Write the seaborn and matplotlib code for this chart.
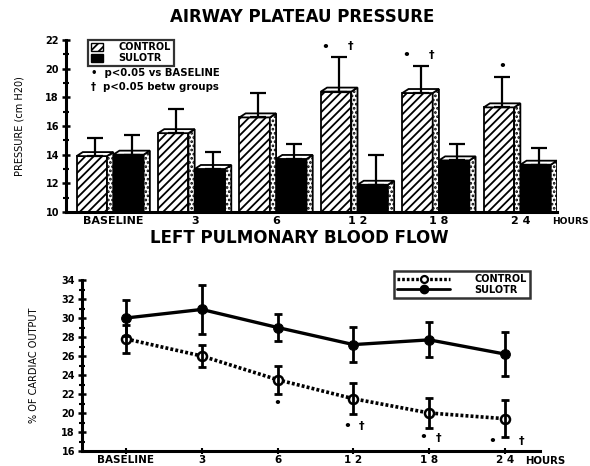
import numpy as np
import pandas as pd
import matplotlib
matplotlib.use("Agg")
import matplotlib.pyplot as plt
import seaborn as sns
from matplotlib.patches import Patch, Polygon
from matplotlib.lines import Line2D
from matplotlib.ticker import MultipleLocator

# ---------------- data ----------------
categories = ["BASELINE", "3", "6", "1 2", "1 8", "2 4"]
groups = ["CONTROL", "SULOTR"]

pressure_control = [13.9, 15.5, 16.6, 18.4, 18.3, 17.3]
pressure_control_err = [1.25, 1.7, 1.7, 2.4, 1.9, 2.15]
pressure_sulotr = [14.0, 13.0, 13.7, 11.9, 13.6, 13.3]
pressure_sulotr_err = [1.4, 1.2, 1.05, 2.1, 1.15, 1.2]
pressure_sig_baseline = [0, 0, 0, 1, 1, 1]
pressure_sig_between = [0, 0, 0, 1, 1, 0]
pressure_ticks = [10, 12, 14, 16, 18, 20, 22]

flow_control = [27.8, 26.0, 23.5, 21.5, 20.0, 19.4]
flow_control_err = [1.5, 1.15, 1.45, 1.65, 1.55, 1.95]
flow_sulotr = [30.0, 30.9, 29.0, 27.2, 27.7, 26.2]
flow_sulotr_err = [1.9, 2.6, 1.4, 1.85, 1.85, 2.3]
flow_sig_baseline = [0, 0, 1, 1, 1, 1]
flow_sig_between = [0, 0, 0, 1, 1, 1]
flow_ticks = [16, 18, 20, 22, 24, 26, 28, 30, 32, 34]

title_top = "AIRWAY PLATEAU PRESSURE"
title_bottom = "LEFT PULMONARY BLOOD FLOW"
ylabel_top = "PRESSURE (cm H20)"
ylabel_bottom = "% OF CARDIAC OUTPUT"
sig_base_text = "•  p<0.05 vs BASELINE"
sig_between_text = "†  p<0.05 betw groups"

# annotation offsets in pixels (style only)
flow_dot_offsets = [(0, -10), (0, -10), (0, -10), (-6, -12), (-6, -10), (-13, -4)]
flow_dag_offsets = [(0, -10), (0, -10), (0, -10), (8, -12), (9, -10), (16, -4)]

# ---------------- style ----------------
sns.set_theme(style="ticks")
plt.rcParams["font.family"] = ["DejaVu Sans"]
plt.rcParams["hatch.linewidth"] = 1.3
plt.rcParams["axes.linewidth"] = 2.2
for key in ["text.color", "axes.labelcolor", "xtick.color", "ytick.color", "axes.edgecolor"]:
    plt.rcParams[key] = "black"

fig = plt.figure(figsize=(5.9, 4.66), dpi=100)
ax1 = fig.add_axes([66 / 590, 1 - 212 / 466, 491 / 590, 172 / 466])
ax2 = fig.add_axes([82 / 590, 1 - 451 / 466, 458 / 590, 171 / 466])

# ---------------- top: bar chart ----------------
df_p = pd.DataFrame({
    "time": categories * 2,
    "group": [groups[0]] * len(categories) + [groups[1]] * len(categories),
    "value": pressure_control + pressure_sulotr,
})
sns.barplot(data=df_p, x="time", y="value", hue="group", order=categories,
            hue_order=groups, palette={"CONTROL": "white", "SULOTR": "black"},
            edgecolor="black", linewidth=1.3, width=0.9, gap=0,
            errorbar=None, legend=False, ax=ax1)

ax1.set_ylim(pressure_ticks[0], pressure_ticks[-1])
ax1.set_xlim(-0.58, 5.45)
bars = sorted([p for p in ax1.patches], key=lambda p: p.get_x())
vals_i, errs_i, centers, is_ctrl = [], [], [], []
for i in range(len(categories)):
    vals_i += [pressure_control[i], pressure_sulotr[i]]
    errs_i += [pressure_control_err[i], pressure_sulotr_err[i]]
    is_ctrl += [True, False]
dy = 0.28
for k, p in enumerate(bars):
    x0, w, top = p.get_x(), p.get_width(), p.get_height()
    bot = p.get_y()
    depth = w * 0.17
    fw = w - depth
    p.set_width(fw)
    if is_ctrl[k]:
        p.set_hatch("////")
    p.set_zorder(2)
    xf = x0 + fw
    side = Polygon([(xf, bot), (x0 + w, bot), (x0 + w, top + dy), (xf, top)],
                   closed=True, facecolor="white", edgecolor="black",
                   hatch="....", linewidth=1.3, zorder=2)
    ax1.add_patch(side)
    topf = Polygon([(x0, top), (xf, top), (x0 + w, top + dy), (x0 + depth, top + dy)],
                   closed=True, facecolor="white", edgecolor="black",
                   linewidth=1.3, zorder=2)
    ax1.add_patch(topf)
    centers.append(x0 + w / 2)

centers = np.array(centers)
vals_i = np.array(vals_i)
errs_i = np.array(errs_i)
ax1.errorbar(centers, vals_i, yerr=[np.zeros_like(errs_i), errs_i], fmt="none",
             ecolor="black", elinewidth=1.6, capsize=6, capthick=1.6, zorder=5)

ctrl_centers = centers[0::2]
for i in range(len(categories)):
    ytop = pressure_control[i] + pressure_control_err[i]
    both = pressure_sig_baseline[i] and pressure_sig_between[i]
    if pressure_sig_baseline[i]:
        ax1.annotate("•", xy=(ctrl_centers[i], ytop), xytext=(-14 if both else 0, 10),
                     textcoords="offset pixels", ha="center", va="center",
                     fontsize=9, fontweight="bold")
    if pressure_sig_between[i]:
        ax1.annotate("†", xy=(ctrl_centers[i], ytop), xytext=(11, 11),
                     textcoords="offset pixels", ha="center", va="center",
                     fontsize=8, fontweight="bold")

ax1.set_yticks(pressure_ticks)
ax1.yaxis.set_minor_locator(MultipleLocator(1))
ax1.tick_params(axis="y", which="major", direction="inout", length=6, width=1.8,
                labelsize=7, pad=2)
ax1.tick_params(axis="y", which="minor", direction="inout", length=4, width=1.5)
ax1.tick_params(axis="x", length=0, labelsize=8, pad=3)
for lab in ax1.get_xticklabels() + ax1.get_yticklabels():
    lab.set_fontweight("bold")
ax1.set_xlabel("")
ax1.set_ylabel(ylabel_top, fontsize=7, labelpad=15)
sns.despine(ax=ax1)
ax1.annotate("HOURS", xy=(1, 0), xycoords="axes fraction", xytext=(-5, -5),
             textcoords="offset pixels", ha="left", va="top",
             fontsize=6.6, fontweight="bold")

leg1 = ax1.legend(handles=[Patch(facecolor="white", edgecolor="black", hatch="////"),
                           Patch(facecolor="black", edgecolor="black")],
                  labels=groups, loc="upper left", bbox_to_anchor=(0.045, 1.0),
                  frameon=True, fancybox=False, edgecolor="black",
                  prop={"size": 7, "weight": "bold"}, handlelength=1.3,
                  handleheight=0.8, borderpad=0.25, labelspacing=0.1,
                  handletextpad=1.6, borderaxespad=0)
leg1.get_frame().set_linewidth(1.6)
ax1.text(0.05, 0.81, sig_base_text, transform=ax1.transAxes, fontsize=7.3,
         fontweight="bold", va="center")
ax1.text(0.05, 0.725, sig_between_text, transform=ax1.transAxes, fontsize=7.3,
         fontweight="bold", va="center")

fig.text(302 / 590, 1 - 17 / 466, title_top, ha="center", va="center",
         fontsize=12, fontweight="bold")
fig.text(299 / 590, 1 - 238 / 466, title_bottom, ha="center", va="center",
         fontsize=12, fontweight="bold")

# ---------------- bottom: line chart ----------------
pos = list(range(len(categories)))
df_f = pd.DataFrame({
    "pos": pos * 2,
    "group": [groups[0]] * len(categories) + [groups[1]] * len(categories),
    "value": flow_control + flow_sulotr,
})
sns.lineplot(data=df_f[df_f["group"] == "CONTROL"], x="pos", y="value", ax=ax2,
             color="black", linestyle=(0, (0.8, 0.6)), linewidth=2.6,
             marker="o", markersize=6.5, markerfacecolor="white",
             markeredgecolor="black", markeredgewidth=1.8, zorder=3)
sns.lineplot(data=df_f[df_f["group"] == "SULOTR"], x="pos", y="value", ax=ax2,
             color="black", linestyle="-", linewidth=2.4,
             marker="o", markersize=7, markerfacecolor="black",
             markeredgecolor="black", zorder=3)
ax2.errorbar(pos, flow_control, yerr=flow_control_err, fmt="none", ecolor="black",
             elinewidth=2, capsize=3, capthick=2, zorder=4)
ax2.errorbar(pos, flow_sulotr, yerr=flow_sulotr_err, fmt="none", ecolor="black",
             elinewidth=2, capsize=3, capthick=2, zorder=4)

for i in range(len(categories)):
    ybot = flow_control[i] - flow_control_err[i]
    if flow_sig_baseline[i]:
        ax2.annotate("•", xy=(pos[i], ybot), xytext=flow_dot_offsets[i],
                     textcoords="offset pixels", ha="center", va="center",
                     fontsize=9, fontweight="bold")
    if flow_sig_between[i]:
        ax2.annotate("†", xy=(pos[i], ybot), xytext=flow_dag_offsets[i],
                     textcoords="offset pixels", ha="center", va="center",
                     fontsize=8, fontweight="bold")

ax2.set_ylim(flow_ticks[0], flow_ticks[-1])
ax2.set_xlim(-0.58, 5.46)
ax2.set_xticks(pos)
ax2.set_xticklabels(categories)
ax2.set_yticks(flow_ticks)
ax2.yaxis.set_minor_locator(MultipleLocator(1))
ax2.tick_params(axis="y", which="major", direction="inout", length=6, width=1.8,
                labelsize=7, pad=2)
ax2.tick_params(axis="y", which="minor", direction="inout", length=4, width=1.5)
ax2.tick_params(axis="x", direction="inout", length=4, width=1.5, labelsize=7.5, pad=1)
for lab in ax2.get_xticklabels() + ax2.get_yticklabels():
    lab.set_fontweight("bold")
ax2.set_xlabel("")
ax2.set_ylabel(ylabel_bottom, fontsize=7, labelpad=16)
sns.despine(ax=ax2)
ax2.annotate("HOURS", xy=(0.967, 0), xycoords="axes fraction", xytext=(0, -5),
             textcoords="offset pixels", ha="left", va="top",
             fontsize=7.3, fontweight="bold")

leg2 = ax2.legend(handles=[Line2D([], [], color="black", linestyle=(0, (0.8, 0.6)),
                                  linewidth=2.4, marker="o", markersize=5,
                                  markerfacecolor="white", markeredgewidth=1.6),
                           Line2D([], [], color="black", linestyle="-", linewidth=2,
                                  marker="o", markersize=6)],
                  labels=groups, loc="upper right", bbox_to_anchor=(0.978, 1.05),
                  frameon=True, fancybox=False, edgecolor="black",
                  prop={"size": 7, "weight": "bold"}, handlelength=5.5,
                  borderpad=0.3, labelspacing=0.05, handletextpad=2.5,
                  borderaxespad=0)
leg2.get_frame().set_linewidth(1.8)

fig.savefig("out.png", dpi=100)
